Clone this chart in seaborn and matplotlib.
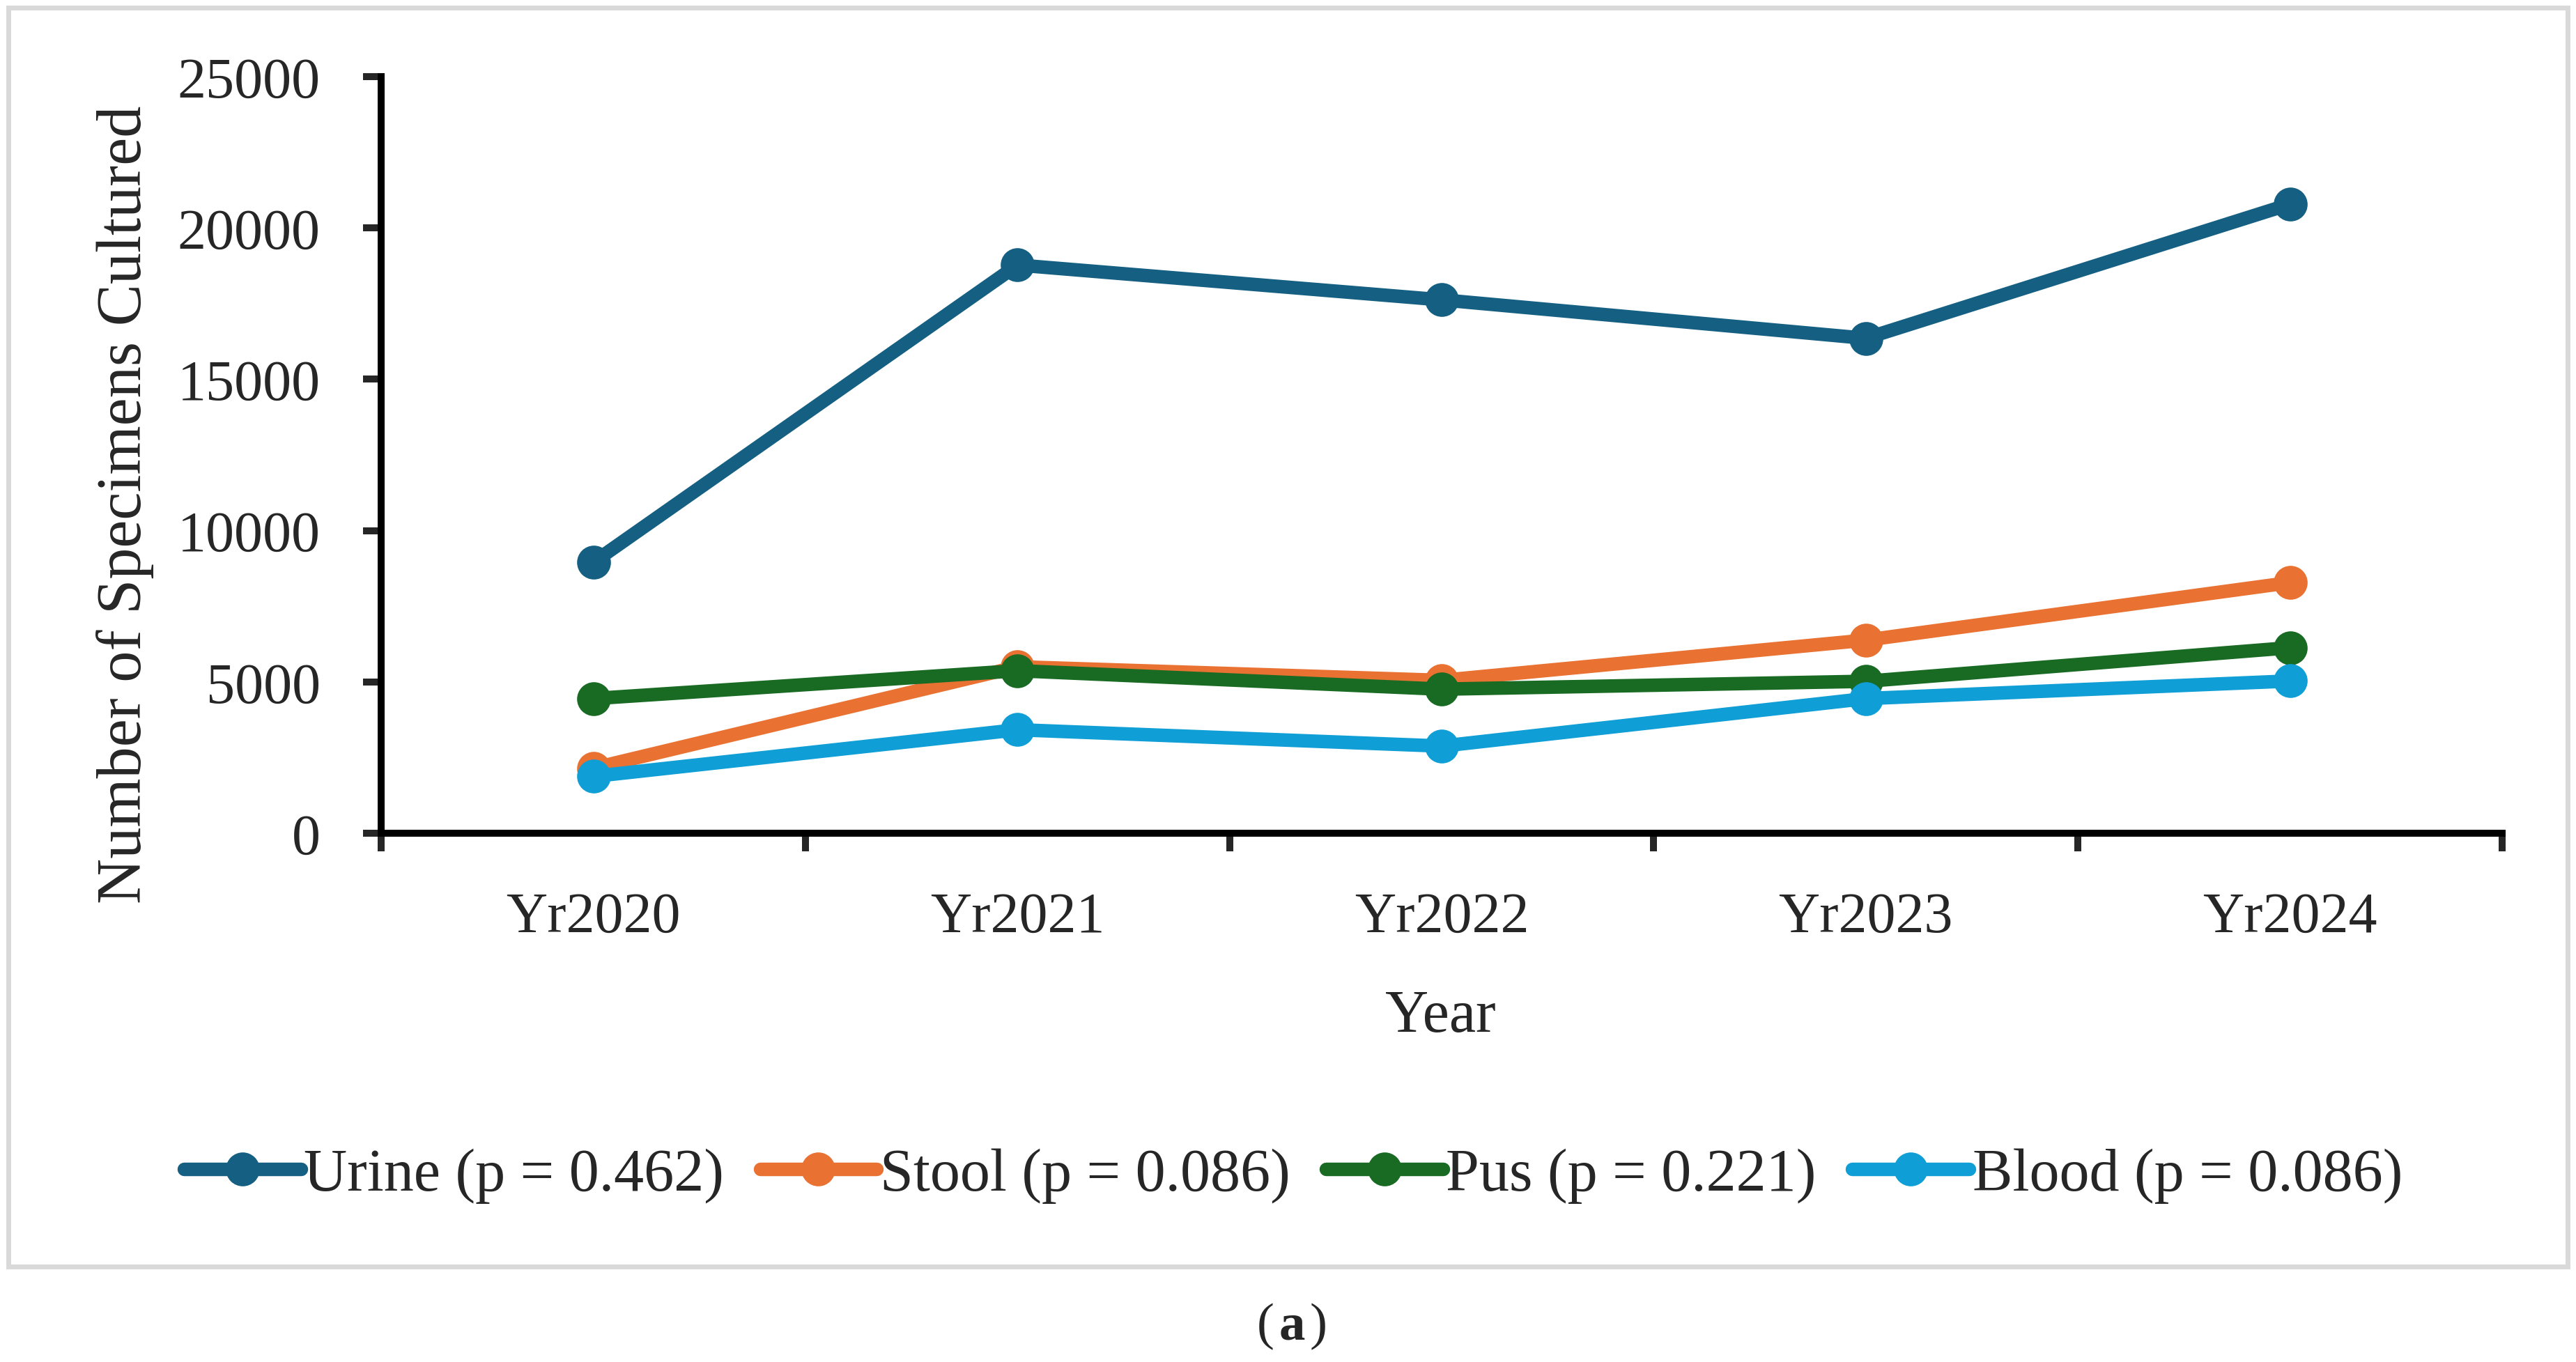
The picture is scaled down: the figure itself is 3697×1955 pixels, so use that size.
import numpy as np
import pandas as pd
import matplotlib
matplotlib.use('Agg')
import matplotlib.pyplot as plt
import matplotlib.patches as patches
import seaborn as sns

# data
years = ['Yr2020', 'Yr2021', 'Yr2022', 'Yr2023', 'Yr2024']
urine = [8950, 18770, 17620, 16350, 20780]
stool = [2150, 5500, 5050, 6380, 8280]
pus = [4450, 5370, 4760, 5020, 6130]
blood = [1880, 3420, 2880, 4450, 5030]
series_names = ['Urine (p = 0.462)', 'Stool (p = 0.086)', 'Pus (p = 0.221)', 'Blood (p = 0.086)']
colors = ['#156082', '#E97132', '#196B24', '#0F9ED5']

rows = []
for name, vals in zip(series_names, [urine, stool, pus, blood]):
    for i, v in enumerate(vals):
        rows.append({'pos': i, 'year': years[i], 'value': v, 'series': name})
df = pd.DataFrame(rows)

sns.set_style('white')
plt.rcParams['font.family'] = ['Liberation Serif', 'DejaVu Serif']

fig = plt.figure(figsize=(3697 / 200, 1956 / 200), dpi=200)
ax = fig.add_axes([0.148, 0.388, 0.8233, 0.5554])

sns.lineplot(data=df, x='pos', y='value', hue='series', palette=colors,
             marker='o', markersize=17.5, markeredgewidth=0, linewidth=7,
             solid_capstyle='round', solid_joinstyle='round',
             ax=ax, legend=True)

ax.set_xlim(-0.5, 4.5)
ax.set_ylim(0, 25000)
ax.set_yticks(np.arange(0, 25001, 5000))
ax.set_xticks(range(len(years)))
ax.set_xticklabels(years)
ax.set_xticks(np.arange(-0.5, 4.6, 1), minor=True)

for s in ['top', 'right']:
    ax.spines[s].set_visible(False)
for s in ['left', 'bottom']:
    ax.spines[s].set_linewidth(3.6)
    ax.spines[s].set_color('black')

ax.tick_params(axis='y', which='major', direction='out', length=9.5, width=3.6,
               labelsize=29.5, pad=22, left=True)
ax.tick_params(axis='x', which='major', length=0, labelsize=29.5, pad=30)
ax.tick_params(axis='x', which='minor', direction='out', length=9.5, width=3.6, bottom=True)

ax.set_ylabel('Number of Specimens Cultured', fontsize=32.5)
ax.set_xlabel('Year', fontsize=31)
ax.yaxis.set_label_coords(-0.107, 0.435)
ax.xaxis.set_label_coords(0.4996, -0.206)

handles, labels = ax.get_legend_handles_labels()
ax.legend_.remove()
fig.legend(handles, labels, loc='center', bbox_to_anchor=(0.502, 0.137), ncol=4,
           frameon=False, fontsize=31, handlelength=1.95, handletextpad=0.05,
           columnspacing=0.6)

# outer light gray frame
fig.patches.append(patches.Rectangle((5 / 1568, 1 - 772 / 830), 1558 / 1568, 767 / 830,
                                     transform=fig.transFigure, fill=False,
                                     edgecolor='#D9D9D9', linewidth=2.5))

fig.text(0.4945, 0.0265, '(', ha='right', va='center', fontsize=27)
fig.text(0.5015, 0.0265, 'a', ha='center', va='center', fontsize=27, fontweight='bold')
fig.text(0.5085, 0.0265, ')', ha='left', va='center', fontsize=27)

fig.savefig('out.png', dpi=200, facecolor='white')
